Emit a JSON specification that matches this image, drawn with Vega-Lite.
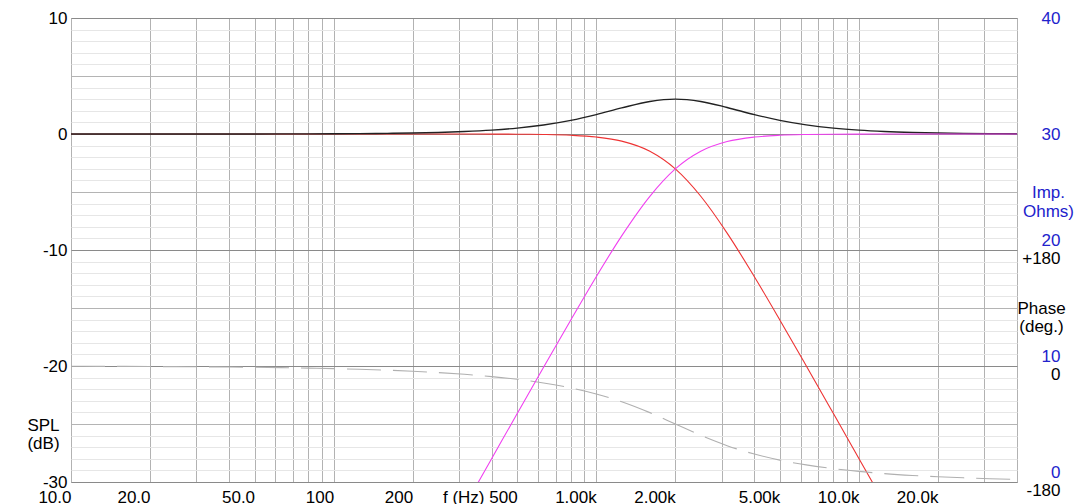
{
  "$schema": "https://vega.github.io/schema/vega-lite/v6.json",
  "width": 946,
  "height": 464,
  "autosize": "none",
  "padding": {"left": 71, "top": 18, "right": 63, "bottom": 22},
  "background": "white",
  "config": {
    "view": {"stroke": "#aaaaaa", "strokeWidth": 1},
    "font": "Liberation Sans",
    "axis": {"labelFont": "Liberation Sans", "titleFont": "Liberation Sans", "labelFontSize": 17, "titleFontSize": 17, "titleFontWeight": "normal", "labelColor": "#000000", "titleColor": "#000000", "domain": false, "ticks": false, "tickSize": 0, "labelOverlap": false, "labelBound": false, "labelFlush": false}
  },
  "data": {
    "values": [
      {"f": 10, "sum": 0.0002, "lp": 0, "hp": null, "phase": -0.41},
      {"f": 12.5, "sum": 0.0003, "lp": 0, "hp": null, "phase": -0.51},
      {"f": 16, "sum": 0.0006, "lp": 0, "hp": null, "phase": -0.65},
      {"f": 20, "sum": 0.0009, "lp": 0, "hp": null, "phase": -0.81},
      {"f": 25, "sum": 0.0014, "lp": 0, "hp": null, "phase": -1.01},
      {"f": 31.5, "sum": 0.0022, "lp": 0, "hp": null, "phase": -1.28},
      {"f": 40, "sum": 0.0035, "lp": 0, "hp": null, "phase": -1.62},
      {"f": 50, "sum": 0.0054, "lp": 0, "hp": null, "phase": -2.03},
      {"f": 63, "sum": 0.0086, "lp": 0, "hp": null, "phase": -2.55},
      {"f": 80, "sum": 0.0139, "lp": 0, "hp": null, "phase": -3.24},
      {"f": 100, "sum": 0.0217, "lp": 0, "hp": null, "phase": -4.05},
      {"f": 125, "sum": 0.0338, "lp": 0, "hp": null, "phase": -5.07},
      {"f": 160, "sum": 0.0552, "lp": 0, "hp": null, "phase": -6.5},
      {"f": 200, "sum": 0.086, "lp": -0.0004, "hp": null, "phase": -8.13},
      {"f": 250, "sum": 0.1336, "lp": -0.0011, "hp": -36.12, "phase": -10.18},
      {"f": 315, "sum": 0.2102, "lp": -0.0027, "hp": -32.11, "phase": -12.87},
      {"f": 400, "sum": 0.3337, "lp": -0.0069, "hp": -27.97, "phase": -16.42},
      {"f": 500, "sum": 0.5096, "lp": -0.0169, "hp": -24.1, "phase": -20.68},
      {"f": 630, "sum": 0.7792, "lp": -0.0426, "hp": -20.11, "phase": -26.32},
      {"f": 800, "sum": 1.1794, "lp": -0.1098, "hp": -16.03, "phase": -33.96},
      {"f": 1000, "sum": 1.6749, "lp": -0.2633, "hp": -12.3, "phase": -43.34},
      {"f": 1250, "sum": 2.2475, "lp": -0.6167, "hp": -8.78, "phase": -55.42},
      {"f": 1600, "sum": 2.8059, "lp": -1.491, "hp": -5.37, "phase": -72.35},
      {"f": 2000, "sum": 3.0103, "lp": -3.0103, "hp": -3.01, "phase": -90},
      {"f": 2500, "sum": 2.8059, "lp": -5.3673, "hp": -1.49, "phase": -107.65},
      {"f": 3150, "sum": 2.2879, "lp": -8.5452, "hp": -0.654, "phase": -123.61},
      {"f": 4000, "sum": 1.6749, "lp": -12.3045, "hp": -0.2633, "phase": -136.66},
      {"f": 5000, "sum": 1.1794, "lp": -16.0274, "hp": -0.1098, "phase": -146.04},
      {"f": 6300, "sum": 0.7902, "lp": -19.9763, "hp": -0.0439, "phase": -153.47},
      {"f": 8000, "sum": 0.5096, "lp": -24.0993, "hp": -0.0169, "phase": -159.32},
      {"f": 10000, "sum": 0.3337, "lp": -27.9657, "hp": -0.0069, "phase": -163.58},
      {"f": 12500, "sum": 0.2167, "lp": -31.838, "hp": -0.0028, "phase": -166.93},
      {"f": 16000, "sum": 0.1336, "lp": -36.12, "hp": -0.0011, "phase": -169.82},
      {"f": 20000, "sum": 0.086, "lp": null, "hp": -0.0004, "phase": -171.87},
      {"f": 25000, "sum": 0.0552, "lp": null, "hp": -0.0002, "phase": -173.5},
      {"f": 31500, "sum": 0.0349, "lp": null, "hp": -0.0001, "phase": -174.85},
      {"f": 40000, "sum": 0.0217, "lp": null, "hp": 0, "phase": -175.95}
    ]
  },
  "encoding": {
    "x": {
      "field": "f",
      "type": "quantitative",
      "scale": {"type": "log", "domain": [10, 40000], "nice": false},
      "axis": {
        "orient": "bottom",
        "values": [10, 20, 30, 40, 50, 60, 70, 80, 90, 100, 200, 300, 400, 500, 600, 700, 800, 900, 1000, 2000, 3000, 4000, 5000, 6000, 7000, 8000, 9000, 10000, 20000, 30000, 40000],
        "labelExpr": "indexof([10,20,50,100,200,500,1000,2000,5000,10000,20000], datum.value) >= 0 ? (datum.value < 100 ? format(datum.value, '.1f') : datum.value < 1000 ? format(datum.value, 'd') : datum.value < 10000 ? format(datum.value / 1000, '.2f') + 'k' : format(datum.value / 1000, '.1f') + 'k') : ''",
        "labelAlign": "right",
        "labelBaseline": "alphabetic",
        "labelPadding": 20,
        "grid": true,
        "gridColor": "#b2b2b2",
        "gridWidth": 1,
        "title": "f (Hz)",
        "titleAlign": "right",
        "titleBaseline": "alphabetic",
        "titleX": 413,
        "titleY": 20
      }
    }
  },
  "layer": [
    {
      "mark": {"type": "line", "clip": true, "strokeWidth": 1.1, "color": "#ee3333", "interpolate": "monotone"},
      "encoding": {
        "y": {
          "field": "lp",
          "type": "quantitative",
          "scale": {"domain": [-30, 10], "nice": false, "zero": false},
          "axis": {
            "orient": "left",
            "values": [-30, -29, -28, -27, -26, -25, -24, -23, -22, -21, -20, -19, -18, -17, -16, -15, -14, -13, -12, -11, -10, -9, -8, -7, -6, -5, -4, -3, -2, -1, 0, 1, 2, 3, 4, 5, 6, 7, 8, 9, 10],
            "labelExpr": "datum.value % 10 === 0 ? '' + datum.value : ''",
            "labelAlign": "right",
            "labelBaseline": "middle",
            "labelPadding": 4,
            "grid": true,
            "gridColor": {"condition": [{"test": "datum.value % 10 === 0", "value": "#8a8a8a"}, {"test": "datum.value % 5 === 0", "value": "#b4b4b4"}], "value": "#e6e6e6"},
            "gridWidth": 1,
            "title": ["SPL", "(dB)"],
            "titleAngle": 0,
            "titleAlign": "center",
            "titleBaseline": "middle",
            "titleLineHeight": 18,
            "titleX": -28,
            "titleY": 407
          }
        }
      }
    },
    {
      "mark": {"type": "line", "clip": true, "strokeWidth": 1.4, "color": "#222222", "interpolate": "monotone"},
      "encoding": {
        "y": {
          "field": "sum",
          "type": "quantitative",
          "scale": {"domain": [-30, 10], "nice": false, "zero": false},
          "axis": null
        }
      }
    },
    {
      "mark": {"type": "line", "clip": true, "strokeWidth": 1.1, "color": "#b0b0b0", "strokeDash": [34, 12], "interpolate": "monotone"},
      "encoding": {
        "y": {
          "field": "phase",
          "type": "quantitative",
          "scale": {"domain": [-180, 540], "nice": false, "zero": false},
          "axis": {
            "orient": "right",
            "values": [-180, 0, 180],
            "labelExpr": "datum.value > 0 ? '+' + datum.value : '' + datum.value",
            "labelAlign": "right",
            "labelBaseline": "middle",
            "labelPadding": 43,
            "labelOffset": 8,
            "grid": false,
            "title": ["Phase", "(deg.)"],
            "titleAngle": 0,
            "titleAlign": "center",
            "titleBaseline": "middle",
            "titleLineHeight": 18,
            "titleX": 24,
            "titleY": 290
          }
        }
      }
    },
    {
      "mark": {"type": "line", "clip": true, "strokeWidth": 1.1, "color": "#f040f0", "interpolate": "monotone"},
      "encoding": {
        "y": {
          "field": "hp",
          "type": "quantitative",
          "scale": {"domain": [-30, 10], "nice": false, "zero": false},
          "axis": {
            "orient": "right",
            "values": [-30, -20, -10, 0, 10],
            "labelExpr": "'' + (datum.value + 30)",
            "labelColor": "#2222cc",
            "labelAlign": "right",
            "labelBaseline": "middle",
            "labelPadding": 43,
            "labelOffset": {"condition": {"test": "datum.value <= -10", "value": -10}, "value": 0},
            "grid": false,
            "title": ["Imp.", "Ohms)"],
            "titleColor": "#2222cc",
            "titleAngle": 0,
            "titleAlign": "center",
            "titleBaseline": "middle",
            "titleLineHeight": 19,
            "titleX": 31,
            "titleY": 174
          }
        }
      }
    }
  ],
  "resolve": {"scale": {"y": "independent"}, "axis": {"y": "independent"}}
}
